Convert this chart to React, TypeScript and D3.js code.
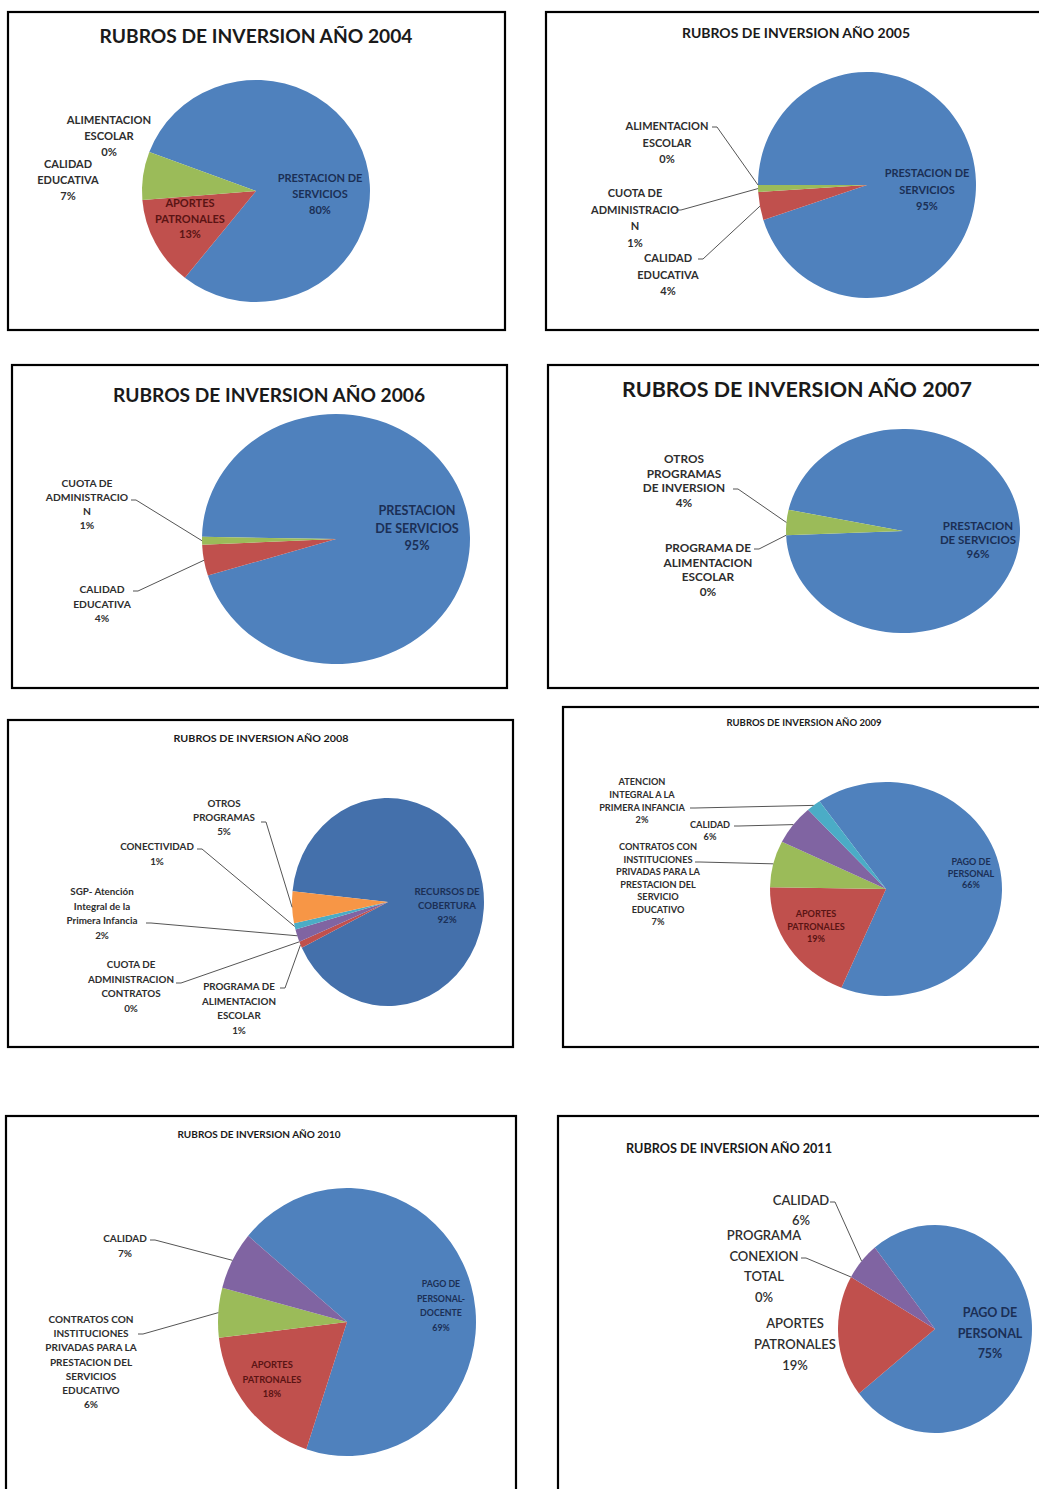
import React from "react";
import * as d3 from "d3";

// ---------- DATA ----------
const PALETTE = ["#4F81BD", "#C0504D", "#9BBB59", "#8064A2", "#4BACC6", "#F79646"];
const PALETTE_2008 = ["#4470AB", "#C0504D", "#9BBB59", "#8064A2", "#4BACC6", "#F79646"];

const titlePrefix = "RUBROS DE INVERSION AÑO ";
const years = ["2004", "2005", "2006", "2007", "2008", "2009", "2010", "2011"];

const cats2004 = ["PRESTACION DE\nSERVICIOS", "APORTES\nPATRONALES", "CALIDAD\nEDUCATIVA", "ALIMENTACION\nESCOLAR"];
const vals2004 = [80, 13, 7, 0];

const cats2005 = ["PRESTACION DE\nSERVICIOS", "CALIDAD\nEDUCATIVA", "CUOTA DE\nADMINISTRACIO\nN", "ALIMENTACION\nESCOLAR"];
const vals2005 = [95, 4, 1, 0];

const cats2006 = ["PRESTACION\nDE SERVICIOS", "CALIDAD\nEDUCATIVA", "CUOTA DE\nADMINISTRACIO\nN"];
const vals2006 = [95, 4, 1];

const cats2007 = ["PRESTACION\nDE SERVICIOS", "PROGRAMA DE\nALIMENTACION\nESCOLAR", "OTROS\nPROGRAMAS\nDE INVERSION"];
const vals2007 = [96, 0, 4];

const cats2008 = [
  "RECURSOS DE\nCOBERTURA",
  "PROGRAMA DE\nALIMENTACION\nESCOLAR",
  "CUOTA DE\nADMINISTRACION\nCONTRATOS",
  "SGP- Atención\nIntegral de la\nPrimera Infancia",
  "CONECTIVIDAD",
  "OTROS\nPROGRAMAS",
];
const vals2008 = [92, 1, 0, 2, 1, 5];

const cats2009 = [
  "PAGO DE\nPERSONAL",
  "APORTES\nPATRONALES",
  "CONTRATOS CON\nINSTITUCIONES\nPRIVADAS PARA LA\nPRESTACION DEL\nSERVICIO\nEDUCATIVO",
  "CALIDAD",
  "ATENCION\nINTEGRAL A LA\nPRIMERA INFANCIA",
];
const vals2009 = [66, 19, 7, 6, 2];

const cats2010 = [
  "PAGO DE\nPERSONAL-\nDOCENTE",
  "APORTES\nPATRONALES",
  "CONTRATOS CON\nINSTITUCIONES\nPRIVADAS PARA LA\nPRESTACION DEL\nSERVICIOS\nEDUCATIVO",
  "CALIDAD",
];
const vals2010 = [69, 18, 6, 7];

const cats2011 = ["PAGO DE\nPERSONAL", "APORTES\nPATRONALES", "PROGRAMA\nCONEXION\nTOTAL", "CALIDAD"];
const vals2011 = [75, 19, 0, 6];

// ---------- LAYOUT ----------
type Lab = { x: number; y: number; lh: number; size: number; color: string; weight?: number; leader?: [number, number] };
type Panel = {
  year: string;
  cats: string[];
  vals: number[];
  colors: string[];
  box: [number, number, number, number];
  title: { x: number; y: number; size: number; len: number; weight: number };
  pie: { cx: number; cy: number; rx: number; ry: number; start: number };
  labels: Lab[];
};

const NAVY = "#1B2F55";
const DRED = "#5A1414";
const GREY = "#2e2e2e";

const panels: Panel[] = [
  {
    year: years[0], cats: cats2004, vals: vals2004, colors: PALETTE,
    box: [8, 12, 497, 318],
    title: { x: 256, y: 43, size: 19, len: 313, weight: 700 },
    pie: { cx: 256, cy: 191, rx: 114, ry: 111, start: 290.6 },
    labels: [
      { x: 320, y: 182, lh: 16, size: 11, color: NAVY },
      { x: 190, y: 207, lh: 15.5, size: 11, color: DRED },
      { x: 68, y: 168, lh: 16, size: 11, color: GREY },
      { x: 109, y: 124, lh: 16, size: 11.2, color: GREY },
    ],
  },
  {
    year: years[1], cats: cats2005, vals: vals2005, colors: PALETTE,
    box: [546, 12, 520, 318],
    title: { x: 796, y: 38, size: 13, len: 228, weight: 700 },
    pie: { cx: 867, cy: 185, rx: 109, ry: 113, start: 270 },
    labels: [
      { x: 927, y: 177, lh: 16.5, size: 11, color: NAVY },
      { x: 668, y: 262, lh: 16.5, size: 11, color: GREY, leader: [698, 259] },
      { x: 635, y: 197, lh: 16.7, size: 11, color: GREY, leader: [676, 210] },
      { x: 667, y: 130, lh: 16.5, size: 11, color: GREY, leader: [712, 127] },
    ],
  },
  {
    year: years[2], cats: cats2006, vals: vals2006, colors: PALETTE,
    box: [12, 365, 495, 323],
    title: { x: 269, y: 402, size: 19, len: 312, weight: 700 },
    pie: { cx: 336, cy: 539, rx: 134, ry: 125, start: 271 },
    labels: [
      { x: 417, y: 515, lh: 17.5, size: 12.6, color: NAVY },
      { x: 102, y: 593, lh: 14.5, size: 10.3, color: GREY, leader: [133, 591] },
      { x: 87, y: 487, lh: 14, size: 10.3, color: GREY, leader: [131, 500] },
    ],
  },
  {
    year: years[3], cats: cats2007, vals: vals2007, colors: PALETTE,
    box: [548, 365, 520, 323],
    title: { x: 797, y: 397, size: 21, len: 350, weight: 700 },
    pie: { cx: 903, cy: 531, rx: 117, ry: 102, start: 282 },
    labels: [
      { x: 978, y: 530, lh: 14, size: 11.5, color: NAVY },
      { x: 708, y: 552, lh: 14.5, size: 11.8, color: GREY, leader: [754, 549] },
      { x: 684, y: 463, lh: 14.5, size: 11.8, color: GREY, leader: [733, 489] },
    ],
  },
  {
    year: years[4], cats: cats2008, vals: vals2008, colors: PALETTE_2008,
    box: [8, 720, 505, 327],
    title: { x: 261, y: 742, size: 10, len: 175, weight: 700 },
    pie: { cx: 388, cy: 902, rx: 96, ry: 104, start: 276 },
    labels: [
      { x: 447, y: 895, lh: 14, size: 9.7, color: NAVY },
      { x: 239, y: 990, lh: 14.5, size: 9.8, color: GREY, leader: [280, 988] },
      { x: 131, y: 968, lh: 14.7, size: 9.8, color: GREY, leader: [176, 983] },
      { x: 102, y: 895, lh: 14.5, size: 9.8, color: GREY, leader: [146, 923] },
      { x: 157, y: 850, lh: 14.5, size: 9.8, color: GREY, leader: [197, 849] },
      { x: 224, y: 807, lh: 14, size: 9.8, color: GREY, leader: [261, 822] },
    ],
  },
  {
    year: years[5], cats: cats2009, vals: vals2009, colors: PALETTE,
    box: [563, 707, 520, 340],
    title: { x: 804, y: 726, size: 8.5, len: 155, weight: 700 },
    pie: { cx: 886, cy: 889, rx: 116, ry: 107, start: 325 },
    labels: [
      { x: 971, y: 865, lh: 11.5, size: 9, color: NAVY },
      { x: 816, y: 917, lh: 12.5, size: 9.1, color: DRED },
      { x: 658, y: 850, lh: 12.5, size: 9.2, color: GREY, leader: [695, 862] },
      { x: 710, y: 828, lh: 12, size: 9.2, color: GREY, leader: [734, 826] },
      { x: 642, y: 785, lh: 12.8, size: 9.2, color: GREY, leader: [690, 808] },
    ],
  },
  {
    year: years[6], cats: cats2010, vals: vals2010, colors: PALETTE,
    box: [6, 1116, 510, 400],
    title: { x: 259, y: 1138, size: 9.5, len: 163, weight: 700 },
    pie: { cx: 347, cy: 1322, rx: 129, ry: 134, start: 310 },
    labels: [
      { x: 441, y: 1287, lh: 14.5, size: 8.8, color: NAVY },
      { x: 272, y: 1368, lh: 14.5, size: 9.3, color: DRED },
      { x: 91, y: 1323, lh: 14.2, size: 10, color: GREY, leader: [138, 1334] },
      { x: 125, y: 1242, lh: 15, size: 10, color: GREY, leader: [150, 1240] },
    ],
  },
  {
    year: years[7], cats: cats2011, vals: vals2011, colors: PALETTE,
    box: [558, 1116, 520, 400],
    title: { x: 729, y: 1153, size: 14, len: 206, weight: 700 },
    pie: { cx: 935, cy: 1329, rx: 97, ry: 104, start: 321.6 },
    labels: [
      { x: 990, y: 1317, lh: 20.5, size: 12.5, color: NAVY, weight: 700 },
      { x: 795, y: 1328, lh: 21, size: 13, color: GREY, weight: 600 },
      { x: 764, y: 1240, lh: 20.7, size: 13, color: GREY, weight: 600, leader: [801, 1258] },
      { x: 801, y: 1205, lh: 20, size: 13, color: GREY, weight: 600, leader: [830, 1202] },
    ],
  },
];

const FONT = "Lato, 'Open Sans', sans-serif";
const R = 100;

function PiePanel({ p }: { p: Panel }) {
  const toRad = (deg: number) => (deg * Math.PI) / 180;
  const s = toRad(p.pie.start);
  const pie = d3
    .pie<number>()
    .sort(null)
    .value((d) => d)
    .startAngle(s)
    .endAngle(s + 2 * Math.PI);
  const arcs = pie(p.vals);
  const arcGen = d3.arc<d3.PieArcDatum<number>>().innerRadius(0).outerRadius(R);
  const { cx, cy, rx, ry } = p.pie;
  const [bx, by, bw, bh] = p.box;

  return (
    <g>
      <rect x={bx} y={by} width={bw} height={bh} fill="#fff" stroke="#000" strokeWidth={2.2} />
      <text
        x={p.title.x}
        y={p.title.y}
        textAnchor="middle"
        fontFamily={FONT}
        fontWeight={p.title.weight}
        fontSize={p.title.size}
        fill="#1a1a1a"
        textLength={p.title.len}
        lengthAdjust="spacingAndGlyphs"
      >
        {titlePrefix + p.year}
      </text>
      <g transform={`translate(${cx},${cy}) scale(${rx / R},${ry / R})`}>
        {arcs.map((a, i) => (
          <path key={i} d={arcGen(a) || ""} fill={p.colors[i % p.colors.length]} />
        ))}
      </g>
      {arcs.map((a, i) => {
        const lab = p.labels[i];
        if (!lab) return null;
        const lines = p.cats[i].split("\n").concat([`${p.vals[i]}%`]);
        const mid = (a.startAngle + a.endAngle) / 2;
        const tx = cx + rx * Math.sin(mid);
        const ty = cy - ry * Math.cos(mid);
        return (
          <g key={"l" + i}>
            {lab.leader && (
              <polyline
                points={`${lab.leader[0]},${lab.leader[1]} ${lab.leader[0] + 5},${lab.leader[1]} ${tx},${ty}`}
                fill="none"
                stroke="#555"
                strokeWidth={1}
              />
            )}
            <text
              textAnchor="middle"
              fontFamily={FONT}
              fontWeight={lab.weight ?? 700}
              fontSize={lab.size}
              fill={lab.color}
            >
              {lines.map((ln, j) => (
                <tspan key={j} x={lab.x} y={lab.y + j * lab.lh}>
                  {ln}
                </tspan>
              ))}
            </text>
          </g>
        );
      })}
    </g>
  );
}

export default function App() {
  return (
    <svg
      width={1039}
      height={1489}
      viewBox="0 0 1039 1489"
      style={{ position: "absolute", left: 0, top: 0, background: "#fff" }}
    >
      <rect x={0} y={0} width={1039} height={1489} fill="#fff" />
      {panels.map((p) => (
        <PiePanel key={p.year} p={p} />
      ))}
    </svg>
  );
}
